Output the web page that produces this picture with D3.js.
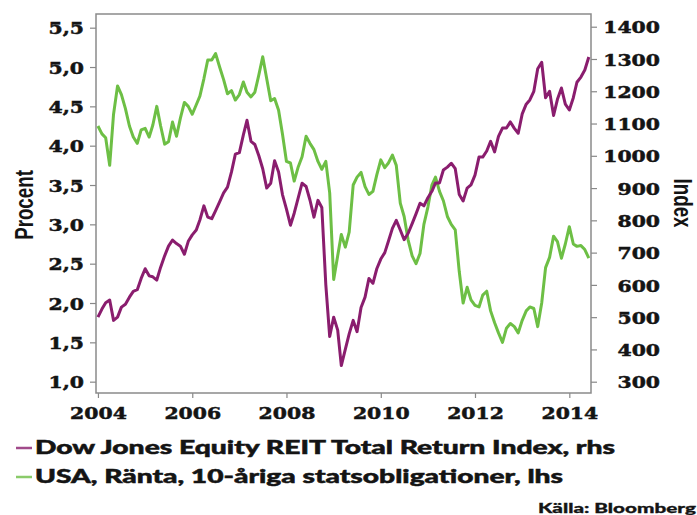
<!DOCTYPE html>
<html>
<head>
<meta charset="utf-8">
<script src="https://cdn.jsdelivr.net/npm/d3@7"></script>
<style>
  html, body { margin: 0; padding: 0; background: #fff; }
  svg { display: block; }
</style>
</head>
<body>
<svg id="chart" width="697" height="515"></svg>
<script>
// Monthly series, January 2004 to June 2014
const firstMonth = new Date(2004, 0, 1);
const endMonth = new Date(2014, 6, 1);

// USA 10-year treasury yield, percent (left axis)
const rateValues = [
  4.25, 4.15, 4.10, 3.75, 4.40, 4.76, 4.65, 4.47, 4.25, 4.11, 4.03, 4.20,
  4.22, 4.11, 4.26, 4.50, 4.25, 4.02, 4.05, 4.30, 4.12, 4.35, 4.55, 4.50,
  4.40, 4.52, 4.63, 4.85, 5.09, 5.09, 5.17, 5.00, 4.84, 4.66, 4.70, 4.58,
  4.65, 4.81, 4.68, 4.62, 4.68, 4.90, 5.13, 4.85, 4.57, 4.60, 4.45, 4.15,
  3.80, 3.78, 3.55, 3.73, 3.86, 4.12, 4.03, 3.95, 3.80, 3.70, 3.80, 3.40,
  2.30, 2.60, 2.87, 2.71, 2.90, 3.50, 3.60, 3.66, 3.48, 3.38, 3.42, 3.63,
  3.82, 3.72, 3.78, 3.88, 3.75, 3.27, 3.10, 2.80, 2.60, 2.50, 2.63, 3.00,
  3.22, 3.50, 3.60, 3.42, 3.30, 3.10, 3.00, 2.93, 2.40, 2.00, 2.20, 2.04,
  1.97, 1.95, 2.10, 2.15, 1.90, 1.75, 1.62, 1.50, 1.68, 1.74, 1.70, 1.62,
  1.78, 1.90, 1.95, 1.93, 1.70, 2.00, 2.45, 2.58, 2.85, 2.78, 2.57, 2.75,
  2.97, 2.75, 2.72, 2.73, 2.68, 2.57
];

// Dow Jones Equity REIT Total Return Index (right axis)
const reitValues = [
   500,  525,  545,  553,  490,  500,  531,  540,  562,  580,  585,  620,
   650,  628,  625,  615,  655,  690,  720,  739,  728,  720,  695,  735,
   755,  770,  801,  845,  810,  805,  830,  857,  885,  903,  950, 1005,
  1010, 1065, 1110, 1045, 1035, 1000,  960,  900,  915,  985,  950,  880,
   835,  785,  822,  870,  915,  905,  863,  810,  862,  840,  600,  440,
   500,  460,  350,  400,  448,  490,  455,  530,  562,  620,  605,  650,
   680,  700,  735,  775,  800,  770,  740,  760,  790,  820,  853,  845,
   870,  890,  916,  916,  956,  965,  977,  960,  880,  860,  900,  910,
   940,  996,  996, 1015, 1045, 1012, 1060, 1086, 1086, 1105, 1085, 1070,
  1130, 1160, 1173, 1200, 1270, 1290, 1180, 1200, 1125, 1175, 1210, 1160,
  1142, 1180, 1228, 1244, 1266, 1306
];

const leftTicks = [1.0, 1.5, 2.0, 2.5, 3.0, 3.5, 4.0, 4.5, 5.0, 5.5];
const rightTicks = [300, 400, 500, 600, 700, 800, 900, 1000, 1100, 1200, 1300, 1400];
const yearTicks = [2004, 2006, 2008, 2010, 2012, 2014];

const legendLabels = [
  "Dow Jones Equity REIT Total Return Index, rhs",
  "USA, Ränta, 10-åriga statsobligationer, lhs"
];
const leftTitle = "Procent";
const rightTitle = "Index";
const sourceText = "Källa: Bloomberg";

const purple = "#8a1d6e";
const green = "#6dbf45";
const ink = "#141414";

const months = d3.timeMonth.range(firstMonth, endMonth);
const rateData = months.map((d, i) => ({ date: d, v: rateValues[i] }));
const reitData = months.map((d, i) => ({ date: d, v: reitValues[i] }));

const plot = { left: 96, right: 591, top: 14, bottom: 393 };

const x = d3.scaleTime()
  .domain([new Date(2003, 11, 17), new Date(2014, 5, 18)])
  .range([plot.left, plot.right]);
const yL = d3.scaleLinear().domain([0.856, 5.674]).range([plot.bottom, plot.top]);
const yR = d3.scaleLinear().domain([265, 1439.4]).range([plot.bottom, plot.top]);

const svg = d3.select("#chart");
const numFmt = d3.format(".1f");
const tickFont = "'DejaVu Serif', serif";

// Heavy slab-style numerals for the axes
function styleTickText(sel) {
  sel.attr("fill", ink)
    .attr("stroke", ink)
    .attr("stroke-width", 0.5)
    .style("font-family", tickFont)
    .style("font-weight", "bold")
    .style("font-size", "17px");
}

// Left axis
const gL = svg.append("g")
  .attr("transform", `translate(${plot.left},0)`)
  .call(d3.axisLeft(yL).tickValues(leftTicks).tickSize(6).tickFormat(""));
gL.select(".domain").remove();
gL.selectAll(".tick line").attr("stroke", "#888").attr("stroke-width", 1.2);
gL.selectAll(".tick").append("text")
  .attr("transform", "translate(-12,0) scale(1.2,1)")
  .attr("text-anchor", "end")
  .attr("dy", "0.36em")
  .call(styleTickText)
  .text(d => numFmt(d).replace(".", ","));

// Right axis
const gR = svg.append("g")
  .attr("transform", `translate(${plot.right},0)`)
  .call(d3.axisRight(yR).tickValues(rightTicks).tickSize(6).tickFormat(""));
gR.select(".domain").remove();
gR.selectAll(".tick line").attr("stroke", "#888").attr("stroke-width", 1.2);
gR.selectAll(".tick").append("text")
  .attr("transform", "translate(69,0) scale(1.2,1)")
  .attr("text-anchor", "end")
  .attr("dy", "0.36em")
  .call(styleTickText)
  .text(d => d);

// Bottom axis
const gB = svg.append("g")
  .attr("transform", `translate(0,${plot.bottom})`)
  .call(d3.axisBottom(x).tickValues(yearTicks.map(y => new Date(y, 0, 1))).tickSize(5).tickFormat(""));
gB.select(".domain").remove();
gB.selectAll(".tick line").attr("stroke", "#888").attr("stroke-width", 1.2);
gB.selectAll(".tick").append("text")
  .attr("transform", "translate(0,26) scale(1.2,1)")
  .attr("text-anchor", "middle")
  .call(styleTickText)
  .text(d => d.getFullYear());

// Plot frame
svg.append("rect")
  .attr("x", plot.left).attr("y", plot.top)
  .attr("width", plot.right - plot.left).attr("height", plot.bottom - plot.top)
  .attr("fill", "none").attr("stroke", "#8a8a8a").attr("stroke-width", 1.5);

// Series lines: yield first, index drawn over it
const rateLine = d3.line().x(d => x(d.date)).y(d => yL(d.v));
const reitLine = d3.line().x(d => x(d.date)).y(d => yR(d.v));

svg.append("path").datum(rateData)
  .attr("d", rateLine)
  .attr("fill", "none").attr("stroke", green)
  .attr("stroke-width", 3).attr("stroke-linejoin", "round");

svg.append("path").datum(reitData)
  .attr("d", reitLine)
  .attr("fill", "none").attr("stroke", purple)
  .attr("stroke-width", 3).attr("stroke-linejoin", "round");

// Axis titles
const titleFont = "'Liberation Sans', Arial, sans-serif";
svg.append("text")
  .attr("transform", "translate(33,205) rotate(-90) scale(0.75,1)")
  .attr("text-anchor", "middle")
  .attr("fill", ink)
  .style("font-family", titleFont)
  .style("font-weight", "bold")
  .style("font-size", "25px")
  .text(leftTitle);

svg.append("text")
  .attr("transform", "translate(674,203) rotate(90) scale(0.75,1)")
  .attr("text-anchor", "middle")
  .attr("fill", ink)
  .style("font-family", titleFont)
  .style("font-weight", "bold")
  .style("font-size", "25px")
  .text(rightTitle);

// Legend
const legendFont = "Lato, 'Open Sans', sans-serif";
const legendRows = [
  { label: legendLabels[0], color: purple, y: 454, width: 580 },
  { label: legendLabels[1], color: green, y: 483, width: 528 }
];
const lg = svg.append("g");
legendRows.forEach(r => {
  lg.append("line")
    .attr("x1", 16).attr("x2", 32)
    .attr("y1", r.y - 6).attr("y2", r.y - 6)
    .attr("stroke", r.color).attr("stroke-width", 2.5).attr("opacity", 0.8);
  lg.append("text")
    .attr("x", 35).attr("y", r.y)
    .attr("textLength", r.width)
    .attr("lengthAdjust", "spacingAndGlyphs")
    .attr("fill", ink)
    .attr("stroke", ink)
    .attr("stroke-width", 0.5)
    .style("font-family", legendFont)
    .style("font-weight", "900")
    .style("font-size", "19px")
    .text(r.label);
});

// Source note
svg.append("text")
  .attr("x", 538).attr("y", 513)
  .attr("textLength", 158)
  .attr("lengthAdjust", "spacingAndGlyphs")
  .attr("fill", ink)
  .attr("stroke", ink)
  .attr("stroke-width", 0.3)
  .style("font-family", legendFont)
  .style("font-weight", "900")
  .style("font-size", "13px")
  .text(sourceText);
</script>
</body>
</html>
